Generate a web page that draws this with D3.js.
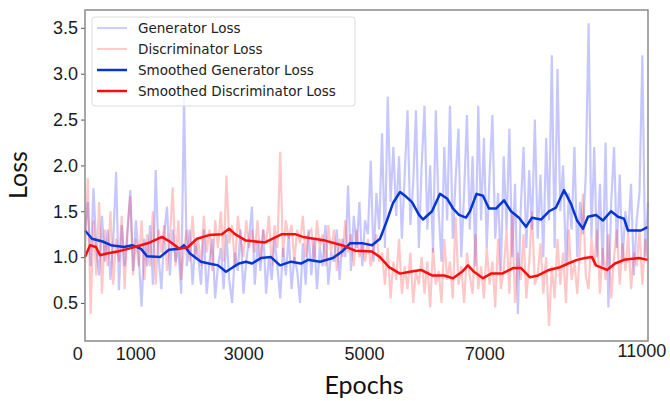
<!DOCTYPE html>
<html>
<head>
<meta charset="utf-8">
<script src="https://cdn.jsdelivr.net/npm/d3@7"></script>
<style>
  body { margin: 0; background: #fff; }
  svg { display: block; }
</style>
</head>
<body>
<svg></svg>
<script>
// raw losses, evenly spaced over the run (200 samples each)
let genLoss = [
  1.3, 1.6, 0.9, 1.75, 1.1, 0.8, 1.45, 0.95, 1.3, 0.75, 1.2, 1.93, 0.64, 1.35, 0.9, 1.25, 1.73, 0.85, 1.4, 1.0,
  0.46, 1.2, 0.9, 1.35, 0.7, 1.95, 1.0, 0.65, 1.25, 1.55, 0.8, 1.3, 0.95, 1.1, 0.6, 2.75, 0.9, 1.3, 0.7, 1.15,
  1.0, 0.7, 1.3, 0.6, 0.95, 1.2, 0.55, 0.9, 1.1, 0.65, 1.25, 0.75, 0.5, 1.05, 0.85, 1.3, 0.6, 0.95, 1.2, 1.55,
  0.7, 1.15, 0.85, 1.3, 0.6, 1.0, 0.75, 1.2, 0.9, 0.55, 1.1, 0.8, 1.25, 0.65, 1.0, 0.85, 0.5, 1.15, 0.7, 1.3,
  0.8, 1.2, 0.65, 1.1, 0.9, 1.35, 0.7, 1.05, 0.95, 1.3, 0.75, 1.2, 1.0, 1.78, 0.85, 1.45, 1.1, 1.6, 0.9, 1.4,
  1.25, 2.05, 0.95, 1.7, 1.3, 2.35, 1.1, 2.75, 1.6, 2.2, 1.45, 2.1, 1.2, 1.9, 2.6, 1.35, 1.8, 2.6, 1.1, 2.0,
  2.65, 1.3, 2.0, 1.05, 2.6, 1.5, 0.95, 2.2, 1.4, 2.65, 1.2, 1.85, 2.4, 1.0, 1.7, 2.55, 1.3, 2.1, 0.9, 2.65,
  1.4, 2.3, 1.1, 1.9, 2.55, 1.2, 1.7, 0.85, 2.1, 1.3, 2.4, 1.0, 1.8, 0.38, 1.5, 2.2, 1.1, 1.95, 1.3, 2.5,
  1.2, 1.9, 1.0, 2.3, 1.4, 3.2, 1.1, 3.05, 1.5, 2.0, 0.9, 1.7, 1.3, 2.2, 1.0, 1.6, 1.25, 1.9, 3.55, 1.2,
  2.2, 1.0, 1.8, 0.9, 2.25, 0.45, 1.6, 2.2, 1.1, 1.9, 0.95, 1.5, 1.25, 1.8, 0.8, 1.4, 1.7, 3.2, 1.0, 1.6
]
let discLoss = [
  1.0, 1.86, 0.38, 1.4, 0.8, 1.6, 0.6, 1.3, 0.9, 1.5, 0.7, 1.2, 0.95, 1.45, 0.65, 1.3, 1.67, 0.8, 1.2, 0.9,
  1.4, 0.75, 1.25, 0.9, 1.5, 0.7, 1.3, 1.05, 1.35, 0.85, 1.2, 1.76, 0.9, 1.4, 0.75, 1.1, 1.3, 0.95, 1.45, 1.0,
  1.2, 0.9, 1.45, 1.05, 1.3, 0.85, 1.4, 1.1, 1.5, 0.95, 1.89, 1.15, 1.35, 0.9, 1.45, 1.2, 1.0, 1.4, 1.1, 1.3,
  1.05, 1.4, 0.95, 1.3, 1.15, 1.45, 0.9, 1.35, 1.1, 2.15, 1.0, 1.4, 1.2, 1.35, 0.95, 1.3, 1.15, 1.45, 1.0, 1.25,
  1.3, 0.95, 1.4, 1.1, 1.25, 0.9, 1.35, 1.05, 1.3, 0.85, 1.2, 1.0, 1.4, 1.05, 1.25, 0.9, 1.3, 1.0, 1.15, 0.95,
  1.2, 0.9, 1.1, 1.25, 0.95, 1.05, 0.7, 1.1, 0.55, 0.95, 0.75, 1.2, 0.6, 0.9, 0.65, 1.05, 0.5, 0.85, 0.7, 1.0,
  0.6, 0.95, 0.45, 1.1, 0.7, 0.85, 0.5, 1.2, 0.75, 0.95, 0.55, 1.44, 0.7, 0.9, 0.5, 1.05, 0.8, 0.6, 1.25, 0.65,
  0.9, 0.55, 1.1, 0.7, 0.95, 0.45, 1.2, 0.65, 0.85, 1.3, 0.6, 1.48, 0.5, 1.05, 0.75, 1.25, 0.55, 0.95, 1.5, 0.7,
  0.8, 1.15, 0.6, 1.0, 0.25, 0.9, 0.55, 1.2, 0.7, 1.05, 0.5, 1.3, 0.75, 0.95, 0.6, 1.1, 1.69, 0.8, 0.65, 1.2,
  0.9, 1.3, 0.6, 1.1, 0.75, 1.25, 0.55, 1.0, 1.3, 0.7, 1.15, 0.85, 1.25, 0.65, 1.05, 0.9, 1.3, 0.7, 1.2, 0.95
]

// smoothed curves, read at their turning points
let smoothGenEpoch = [0, 137, 344, 508, 762, 918, 1094, 1211, 1465, 1641, 1846, 1934, 2051, 2266, 2423, 2599, 2755, 2892,
  3009, 3146, 3263, 3439, 3634, 3810, 4025, 4220, 4357, 4591, 4845, 5021, 5178, 5432, 5608, 5764, 5901, 6018, 6155,
  6272, 6389, 6526, 6604, 6780, 6936, 7073, 7190, 7307, 7444, 7522, 7649, 7776, 7893, 8030, 8186, 8323, 8479, 8616,
  8733, 8909, 9066, 9203, 9359, 9496, 9613, 9730, 9828, 9984, 10121, 10277, 10414, 10531, 10609, 10863, 11000]
let smoothGen = [1.29, 1.20, 1.17, 1.13, 1.11, 1.13, 1.09, 1.01, 1.00, 1.08, 1.09, 1.13, 1.04, 0.95, 0.93, 0.91, 0.84, 0.89,
  0.93, 0.95, 0.93, 0.99, 1.00, 0.91, 0.95, 0.93, 0.97, 0.95, 0.99, 1.06, 1.15, 1.15, 1.13, 1.20, 1.40, 1.59, 1.71,
  1.66, 1.60, 1.46, 1.41, 1.50, 1.69, 1.64, 1.53, 1.46, 1.43, 1.50, 1.69, 1.67, 1.53, 1.53, 1.62, 1.50, 1.43, 1.33,
  1.43, 1.41, 1.50, 1.54, 1.73, 1.58, 1.40, 1.31, 1.44, 1.46, 1.40, 1.50, 1.44, 1.42, 1.29, 1.29, 1.33]

let smoothDiscEpoch = [0, 98, 215, 293, 430, 635, 840, 1094, 1270, 1505, 1680, 1846, 2013, 2188, 2423, 2677, 2814, 2931,
  3146, 3517, 3849, 4103, 4260, 4690, 5021, 5275, 5608, 5764, 5940, 6155, 6350, 6565, 6780, 7015, 7190, 7366, 7483,
  7600, 7776, 7933, 8148, 8362, 8519, 8695, 8851, 9066, 9281, 9437, 9613, 9769, 9906, 9984, 10199, 10356, 10531, 10824, 11000]
let smoothDisc = [1.00, 1.13, 1.11, 1.02, 1.04, 1.06, 1.09, 1.13, 1.16, 1.22, 1.16, 1.09, 1.11, 1.20, 1.24, 1.25, 1.31, 1.25,
  1.18, 1.16, 1.25, 1.25, 1.22, 1.18, 1.13, 1.07, 1.06, 1.00, 0.89, 0.82, 0.84, 0.86, 0.80, 0.80, 0.77, 0.84, 0.91,
  0.84, 0.77, 0.82, 0.82, 0.88, 0.88, 0.78, 0.80, 0.86, 0.89, 0.93, 0.97, 0.99, 1.00, 0.91, 0.86, 0.93, 0.97, 0.99, 0.97]

// x tick labels sit where the original figure put them (not evenly spaced)
let xTickPos = [-150, 980, 3090, 5450, 7800, 10870]
let xTickLabels = ['0', '1000', '3000', '5000', '7000', '11000']
let yTicks = [0.5, 1.0, 1.5, 2.0, 2.5, 3.0, 3.5]

let legendNames = ['Generator Loss', 'Discriminator Loss', 'Smoothed Generator Loss', 'Smoothed Discriminator Loss']

let svgWidth = 670, svgHeight = 401
let margin = {top: 10, right: 22, bottom: 60, left: 85}
let w = svgWidth - margin.left - margin.right
let h = svgHeight - margin.top - margin.bottom

let svg = d3.select('svg').attr('width', svgWidth).attr('height', svgHeight)
let g = svg.append('g').attr('transform', 'translate(' + margin.left + ',' + margin.top + ')')

let x = d3.scaleLinear().domain([0, 11000]).range([0, w])
let y = d3.scaleLinear().domain([0.085, 3.695]).range([h, 0])

let rawX = (i, n) => i * 11000 / (n - 1)

let line = d3.line().x(d => x(d[0])).y(d => y(d[1]))

let colors = {
  gen: 'rgb(0,0,255)',
  disc: 'rgb(255,0,0)',
  genS: '#0636d2',
  discS: '#ff0d0d'
}

g.append('path')
  .datum(genLoss.map((v, i) => [rawX(i, genLoss.length), v]))
  .attr('d', line)
  .attr('fill', 'none')
  .attr('stroke', colors.gen)
  .attr('stroke-opacity', 0.22)
  .attr('stroke-width', 2.2)

g.append('path')
  .datum(discLoss.map((v, i) => [rawX(i, discLoss.length), v]))
  .attr('d', line)
  .attr('fill', 'none')
  .attr('stroke', colors.disc)
  .attr('stroke-opacity', 0.22)
  .attr('stroke-width', 2.2)

g.append('path')
  .datum(smoothGen.map((v, i) => [smoothGenEpoch[i], v]))
  .attr('d', line)
  .attr('fill', 'none')
  .attr('stroke', colors.genS)
  .attr('stroke-width', 2.5)
  .attr('stroke-linejoin', 'round')

g.append('path')
  .datum(smoothDisc.map((v, i) => [smoothDiscEpoch[i], v]))
  .attr('d', line)
  .attr('fill', 'none')
  .attr('stroke', colors.discS)
  .attr('stroke-width', 2.5)
  .attr('stroke-linejoin', 'round')

// axes
let yAxis = g.append('g')
  .call(d3.axisLeft(y).tickValues(yTicks).tickFormat(d3.format('.1f')).tickSize(4).tickPadding(3))
yAxis.select('.domain').remove()
yAxis.selectAll('line').attr('stroke', '#555')
yAxis.selectAll('text')
  .attr('font-family', 'Liberation Sans, Arial, sans-serif')
  .attr('font-size', 18)
  .attr('fill', '#1a1a1a')

let xAxis = g.append('g')
  .attr('transform', 'translate(0,' + h + ')')
  .call(d3.axisBottom(x).tickValues(xTickPos).tickFormat((d, i) => xTickLabels[i]).tickSize(0).tickPadding(6))
xAxis.select('.domain').remove()
xAxis.selectAll('text')
  .attr('font-family', 'Liberation Sans, Arial, sans-serif')
  .attr('font-size', 18)
  .attr('fill', '#1a1a1a')
xAxis.selectAll('.tick').filter((d, i) => i == xTickPos.length - 1).select('text').attr('dy', '0.55em')

// frame
g.append('rect')
  .attr('width', w).attr('height', h)
  .attr('fill', 'none')
  .attr('stroke', '#8a8a8a')
  .attr('stroke-width', 1.5)

// axis titles
svg.append('text')
  .attr('transform', 'translate(27,175) rotate(-90)')
  .attr('text-anchor', 'middle')
  .attr('font-family', 'Lato, sans-serif')
  .attr('font-size', 25)
  .attr('fill', '#111')
  .text('Loss')

svg.append('text')
  .attr('x', 364).attr('y', 394)
  .attr('text-anchor', 'middle')
  .attr('font-family', 'Lato, sans-serif')
  .attr('font-size', 25)
  .attr('fill', '#111')
  .text('Epochs')

// legend
let legend = g.append('g').attr('transform', 'translate(7,7)')
legend.append('rect')
  .attr('width', 263).attr('height', 89)
  .attr('rx', 3)
  .attr('fill', 'white').attr('fill-opacity', 0.8)
  .attr('stroke', '#dcdcdc')

let legendStyle = [
  {c: colors.gen, o: 0.2, wd: 2},
  {c: colors.disc, o: 0.2, wd: 2},
  {c: colors.genS, o: 1, wd: 2.5},
  {c: colors.discS, o: 1, wd: 2.5}
]
let item = legend.selectAll('.item').data(legendNames).enter().append('g')
  .attr('transform', (d, i) => 'translate(0,' + (11 + i * 21) + ')')
item.append('line')
  .attr('x1', 5).attr('x2', 35)
  .attr('stroke', (d, i) => legendStyle[i].c)
  .attr('stroke-opacity', (d, i) => legendStyle[i].o)
  .attr('stroke-width', (d, i) => legendStyle[i].wd)
item.append('text')
  .attr('x', 46).attr('dy', '0.35em')
  .attr('font-family', 'DejaVu Sans, sans-serif')
  .attr('font-size', 13.5)
  .attr('fill', '#222')
  .text(d => d)
</script>
</body>
</html>
